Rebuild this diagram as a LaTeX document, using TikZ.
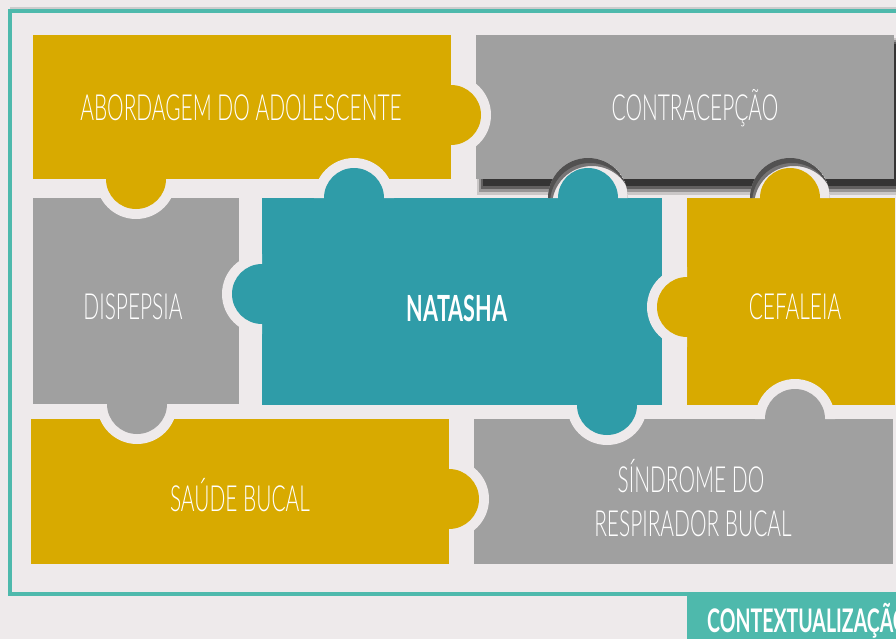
\documentclass[tikz,border=0pt]{standalone}
\usepackage{fontspec}
\newfontfamily\piecefont[FakeStretch = 0.58]{Lato Light}
\newfontfamily\heavyfont[FakeStretch = 0.6]{Lato}
\definecolor{paper}{RGB}{238,234,235}
\definecolor{gold}{RGB}{216,170,0}
\definecolor{stone}{RGB}{160,160,160}
\definecolor{sea}{RGB}{47,156,168}
\definecolor{frame}{RGB}{78,185,172}

\begin{document}
\begin{tikzpicture}[
    x = 0.02cm,
    y = -0.02cm,
    piece/.style = {fill = #1},
    hole/.style = {fill = paper},
    knob/.style = {fill = #1},
    shade/.style = {fill = black, opacity = #1},
    piecetext/.style = {text = white, anchor = base,
      font = \piecefont\fontsize{20.5}{25}\selectfont},
    mainpiece/.style = {piecetext,
      font = \heavyfont\bfseries\fontsize{20.5}{25}\selectfont},
    banner/.style = {text = white, anchor = base west,
      font = \heavyfont\bfseries\fontsize{18.5}{22}\selectfont},
    ]

    \useasboundingbox (0, 0) rectangle (896, 639);
    \clip (0, 0) rectangle (896, 639);
    \fill [paper] (0, 0) rectangle (896, 639);

    % outer frame
    \draw [black!20, line width = 1.2] (10, 8.5) -- (896, 8.5);
    \draw [frame, line width = 2] (10, 11) rectangle (905, 594);
    \fill [frame] (687, 594) rectangle (905, 645);

    % shadow of the top right piece
    \fill [shade = 0.15] (477, 38) rectangle (900, 195);
    \fill [shade = 0.25] (479, 40) rectangle (900, 192);
    \fill [shade = 0.35] (481, 42) rectangle (900, 189);
    \fill [shade = 0.45] (483, 44) rectangle (900, 186);

    % pieces
    \fill [piece = gold] (33, 35) rectangle (451, 179);
    \fill [piece = stone] (476, 35) rectangle (894, 179);
    \fill [piece = stone] (33, 198) rectangle (239, 404);
    \fill [piece = sea] (262, 198) rectangle (662, 405);
    \fill [piece = gold] (687, 198) rectangle (895, 405);
    \fill [piece = gold] (31, 419) rectangle (449, 564);
    \fill [piece = stone] (474, 419) rectangle (893, 564);

    % holes (cut into the neighbour only)
    \fill [hole] (451, 115) ++(-90: 40) arc [start angle = -90, end angle = 90, radius = 40] -- cycle;
    \fill [hole] (136, 179) ++(0: 40) arc [start angle = 0, end angle = 180, radius = 40] -- cycle;
    \fill [hole] (137, 404) ++(0: 40) arc [start angle = 0, end angle = 180, radius = 40] -- cycle;
    \fill [hole] (354, 198) ++(180: 40) arc [start angle = 180, end angle = 360, radius = 40] -- cycle;
    \fill [hole] (588, 198) ++(180: 40) arc [start angle = 180, end angle = 360, radius = 40] -- cycle;
    \fill [hole] (262, 294) ++(90: 40) arc [start angle = 90, end angle = 270, radius = 40] -- cycle;
    \fill [hole] (607, 405) ++(0: 40) arc [start angle = 0, end angle = 180, radius = 40] -- cycle;
    \fill [hole] (790, 198) ++(180: 40) arc [start angle = 180, end angle = 360, radius = 40] -- cycle;
    \fill [hole] (687, 307) ++(90: 40) arc [start angle = 90, end angle = 270, radius = 40] -- cycle;
    \fill [hole] (449, 499) ++(-90: 40) arc [start angle = -90, end angle = 90, radius = 40] -- cycle;
    \fill [hole] (795, 419) ++(180: 40) arc [start angle = 180, end angle = 360, radius = 40] -- cycle;

    % shadow inside the two lower holes of the top right piece
    \begin{scope}
      \clip (588, 198) ++(180: 40) arc [start angle = 180, end angle = 360, radius = 40] -- cycle;
      \fill [shade = 0.3, even odd rule] (588, 198) circle (40) (590, 203) circle (40);
      \fill [shade = 0.5, even odd rule] (588, 198) circle (40) (592, 206) circle (40);
    \end{scope}
    \begin{scope}
      \clip (790, 198) ++(180: 40) arc [start angle = 180, end angle = 360, radius = 40] -- cycle;
      \fill [shade = 0.3, even odd rule] (790, 198) circle (40) (792, 203) circle (40);
      \fill [shade = 0.5, even odd rule] (790, 198) circle (40) (794, 206) circle (40);
    \end{scope}

    % knobs
    \fill [knob = gold] (451, 115) circle (30);
    \fill [knob = gold] (136, 179) circle (30);
    \fill [knob = stone] (137, 404) circle (30);
    \fill [knob = sea] (354, 198) circle (30);
    \fill [knob = sea] (588, 198) circle (30);
    \fill [knob = sea] (262, 294) circle (30);
    \fill [knob = sea] (607, 405) circle (30);
    \fill [knob = gold] (790, 198) circle (30);
    \fill [knob = gold] (687, 307) circle (30);
    \fill [knob = gold] (449, 499) circle (30);
    \fill [knob = stone] (795, 419) circle (30);

    % texts
    \node at (241, 120) [piecetext, name = abordagem] {ABORDAGEM DO ADOLESCENTE};
    \node at (695, 120) [piecetext, name = contracepcao] {CONTRACEPÇÃO};
    \node at (133, 319) [piecetext, name = dispepsia] {DISPEPSIA};
    \node at (457, 321) [mainpiece, name = natasha] {NATASHA};
    \node at (795, 319) [piecetext, name = cefaleia] {CEFALEIA};
    \node at (240, 511) [piecetext, name = saude] {SAÚDE BUCAL};
    \node at (691, 492) [piecetext, name = sindrome] {SÍNDROME DO};
    \node at (693, 536) [piecetext, name = respirador] {RESPIRADOR BUCAL};
    \node at (701, 632) [banner, name = contexto] {CONTEXTUALIZAÇÃO};
  \end{tikzpicture}
\end{document}
